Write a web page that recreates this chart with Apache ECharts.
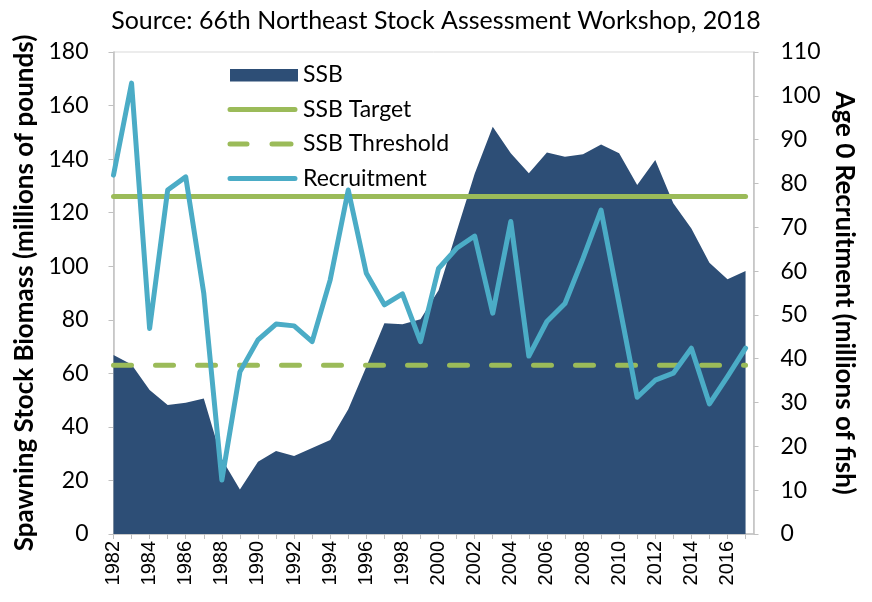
<!DOCTYPE html>
<html>
<head>
<meta charset="utf-8">
<script src="https://cdn.jsdelivr.net/npm/echarts@6/dist/echarts.min.js"></script>
<style>html,body{margin:0;padding:0;background:#fff}#c{width:872px;height:602px}</style>
</head>
<body>
<div id="c"></div>
<script>
const years = [1982,1983,1984,1985,1986,1987,1988,1989,1990,1991,1992,1993,1994,1995,1996,1997,1998,1999,2000,2001,2002,2003,2004,2005,2006,2007,2008,2009,2010,2011,2012,2013,2014,2015,2016,2017];
const ssb = [66.8,63.3,53.8,48.2,49.0,50.6,28.0,16.6,27.0,31.0,29.1,32.1,35.1,46.6,62.5,78.7,78.3,80.2,91.0,113.0,134.5,152.1,142.2,134.7,142.5,140.9,141.8,145.5,142.2,130.3,139.7,123.5,114.1,101.3,95.1,98.2];
const recruitment = [81.9,102.9,46.9,78.5,81.5,54.9,12.3,37.0,44.3,47.9,47.5,43.9,58.0,78.5,59.5,52.3,54.8,43.9,60.6,65.2,68.0,50.4,71.3,40.6,48.5,52.6,62.9,73.9,52.5,31.2,35.1,36.7,42.4,29.7,35.9,42.4];
const ssbTarget = 126.01;
const ssbThreshold = 63.01;
const leftTicks = {min: 0, max: 180, interval: 20};
const rightTicks = {min: 0, max: 110, interval: 10};

const pairs = (vals) => years.map((y, i) => [y, vals[i]]);
const flat = (v) => [[years[0], v], [years[years.length - 1], v]];

const calibri = 'Lato, "Open Sans", sans-serif';
const gray = '#c0c0c0';

// legend icon shapes (71 x 13 box)
const box = 'M0,0 L0.01,0 L0,0.01 Z M71,13 L70.99,13 L71,12.99 Z ';
const solidIcon = 'path://' + box + 'M3,4 L68,4 A2.5,2.5 0 0 1 68,9 L3,9 A2.5,2.5 0 0 1 3,4 Z';
const dashIcon = 'path://' + box + 'M3,4 L20,4 A2.5,2.5 0 0 1 20,9 L3,9 A2.5,2.5 0 0 1 3,4 Z M45,4 L64,4 A2.5,2.5 0 0 1 64,9 L45,9 A2.5,2.5 0 0 1 45,4 Z';
const rectIcon = 'path://' + box + 'M3,0.5 L71,0.5 L71,13 L3,13 Z';

const chart = echarts.init(document.getElementById('c'), null, {renderer: 'canvas'});
chart.setOption({
  animation: false,
  title: {
    text: 'Source: 66th Northeast Stock Assessment Workshop, 2018',
    left: 'center', top: 3,
    textStyle: {fontFamily: calibri, fontSize: 25, fontWeight: 'normal', color: '#000'}
  },
  grid: {left: 113.5, right: 118.5, top: 52, bottom: 68, show: true, borderColor: '#d9d9d9', borderWidth: 1},
  legend: {
    orient: 'vertical', left: 222, top: 58,
    itemWidth: 71, itemHeight: 13, itemGap: 10.5,
    itemStyle: {borderWidth: 0},
    lineStyle: {width: 0},
    textStyle: {fontFamily: calibri, fontSize: 23, color: '#000', lineHeight: 24},
    data: [
      {name: 'SSB', icon: rectIcon},
      {name: 'SSB Target', icon: solidIcon},
      {name: 'SSB Threshold', icon: dashIcon},
      {name: 'Recruitment', icon: solidIcon}
    ]
  },
  xAxis: {
    type: 'value', min: years[0], max: 2017.44, interval: 1,
    axisLine: {lineStyle: {color: gray, width: 1.5}},
    axisTick: {length: 5, lineStyle: {color: gray}},
    splitLine: {show: false},
    axisLabel: {
      rotate: 90, margin: 7, fontFamily: '"Liberation Sans", Arial, sans-serif', fontSize: 20, color: '#000',
      showMaxLabel: false,
      formatter: (v) => (Number.isInteger(v) && v % 2 === 0) ? String(v) : ''
    }
  },
  yAxis: [
    {
      type: 'value', position: 'left', min: leftTicks.min, max: leftTicks.max, interval: leftTicks.interval,
      name: 'Spawning Stock Biomass (millions of pounds)', nameLocation: 'middle', nameGap: 74,
      nameTextStyle: {fontFamily: calibri, fontSize: 26, fontWeight: 'bold', color: '#000'},
      axisLine: {show: true, lineStyle: {color: gray, width: 1.5}},
      axisTick: {show: true, length: 5, lineStyle: {color: gray}},
      splitLine: {show: false},
      axisLabel: {margin: 25, fontFamily: calibri, fontSize: 23, color: '#000'}
    },
    {
      type: 'value', position: 'right', min: rightTicks.min, max: rightTicks.max, interval: rightTicks.interval,
      name: 'Age 0 Recruitment (millions of fish)', nameLocation: 'middle', nameGap: 75, nameRotate: -90,
      nameTextStyle: {fontFamily: calibri, fontSize: 26, fontWeight: 'bold', color: '#000'},
      axisLine: {show: true, lineStyle: {color: gray, width: 1.5}},
      axisTick: {show: true, length: 5, lineStyle: {color: gray}},
      splitLine: {show: false},
      axisLabel: {margin: 27, fontFamily: calibri, fontSize: 23, color: '#000'}
    }
  ],
  series: [
    {
      name: 'SSB', type: 'line', yAxisIndex: 0, data: pairs(ssb),
      symbol: 'none', lineStyle: {width: 0}, itemStyle: {color: '#2d4e76'},
      areaStyle: {color: '#2d4e76', opacity: 1}, z: 1
    },
    {
      name: 'SSB Target', type: 'line', yAxisIndex: 0, data: flat(ssbTarget),
      symbol: 'none', itemStyle: {color: '#9bbb59'},
      lineStyle: {color: '#9bbb59', width: 5, cap: 'round'}, z: 2
    },
    {
      name: 'SSB Threshold', type: 'line', yAxisIndex: 0, data: flat(ssbThreshold),
      symbol: 'none', itemStyle: {color: '#9bbb59'},
      lineStyle: {color: '#9bbb59', width: 5, type: [18, 24], cap: 'round'}, z: 2
    },
    {
      name: 'Recruitment', type: 'line', yAxisIndex: 1, data: pairs(recruitment),
      symbol: 'none', itemStyle: {color: '#4bacc6'},
      lineStyle: {color: '#4bacc6', width: 5, join: 'round', cap: 'round'}, z: 3
    }
  ]
});
</script>
</body>
</html>
